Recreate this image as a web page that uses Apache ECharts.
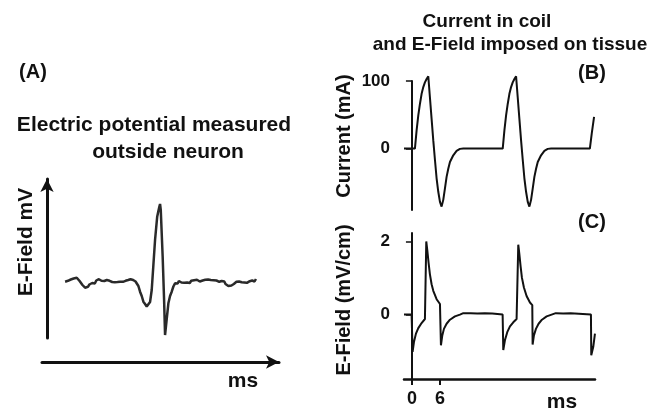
<!DOCTYPE html>
<html>
<head>
<meta charset="utf-8">
<script src="https://cdn.jsdelivr.net/npm/echarts@6/dist/echarts.min.js"></script>
<style>
  html, body { margin: 0; padding: 0; background: #fff; }
  #chart { width: 650px; height: 408px; }
</style>
</head>
<body>
<div id="chart"></div>
<script>
// (A) extracellular spike, arbitrary units (x 0..100, baseline 0)
const spikeTrace = [[7.6,0.13],[8.2,0.02],[8.8,0.22],[9.4,0.12],[10.0,0.35],[10.6,0.25],[11.2,0.45],[11.8,0.36],[12.5,0.53],[13.1,0.38],[13.7,0.2],[14.3,0.05],[14.9,-0.2],[15.5,-0.3],[16.0,-0.47],[16.6,-0.3],[17.2,-0.38],[17.8,-0.15],[18.4,-0.22],[19.0,0.0],[19.5,0.07],[20.1,-0.05],[20.7,0.25],[21.3,0.15],[21.8,0.38],[22.3,0.4],[22.9,0.22],[23.5,0.36],[24.1,0.2],[24.6,0.38],[25.1,0.3],[25.7,0.12],[26.3,0.22],[26.8,0.02],[27.4,0.1],[27.9,-0.03],[28.5,0.08],[29.1,-0.08],[29.6,0.1],[30.2,0.0],[30.7,0.13],[31.3,0.25],[31.9,0.12],[32.4,0.32],[33.0,0.22],[33.5,0.4],[34.1,0.3],[34.6,0.5],[35.1,0.38],[35.6,0.53],[36.2,0.3],[36.7,0.38],[37.2,0.15],[37.7,0.2],[38.4,-0.3],[39.1,-0.87],[39.8,-1.3],[40.5,-1.87],[41.2,-2.1],[41.9,-2.35],[42.6,-2.53],[43.3,-1.9],[44.0,-0.7],[44.7,1.8],[45.4,4.3],[46.3,6.63],[46.8,7.2],[47.2,7.63],[47.5,7.9],[47.8,7.3],[48.6,2.63],[49.2,-1.7],[49.6,-5.2],[50.3,-3.6],[51.0,-2.03],[51.7,-1.3],[52.4,-0.87],[53.1,-0.35],[53.8,-0.03],[54.4,0.12],[54.9,-0.05],[55.4,0.2],[55.9,0.2],[56.5,0.05],[57.1,0.18],[57.7,0.02],[58.3,0.2],[58.9,0.05],[59.4,0.13],[60.0,0.0],[60.6,0.22],[61.2,0.08],[61.8,0.28],[62.4,0.15],[63.0,0.32],[63.6,0.3],[64.2,0.15],[64.8,0.35],[65.4,0.25],[66.0,0.45],[66.5,0.32],[67.1,0.47],[67.7,0.35],[68.3,0.52],[68.8,0.3],[69.4,0.45],[70.0,0.28],[70.6,0.4],[71.2,0.25],[71.8,0.35],[72.4,0.12],[72.9,0.25],[73.4,0.2],[74.0,0.05],[74.5,0.15],[75.0,-0.1],[75.5,-0.03],[76.2,-0.3],[76.9,-0.47],[77.5,-0.25],[78.0,-0.35],[78.5,-0.1],[79.0,-0.03],[79.6,0.12],[80.2,-0.05],[80.7,0.15],[81.3,0.0],[81.8,0.07],[82.4,-0.1],[82.9,0.05],[83.5,-0.12],[84.0,0.02],[84.6,-0.03],[85.2,0.18],[85.7,0.05],[86.2,0.25],[86.7,0.3],[87.2,0.15],[87.8,0.4]];

// (B) coil current, ms / mA
const currentCycle1 = [[-1.7,0],[0.64,0],[1.0,27],[1.36,49],[1.71,66],[2.07,81],[2.43,91],[2.78,98],[3.14,103],[3.5,107],[3.85,76],[4.21,44],[4.57,12],[4.93,-17],[5.28,-44],[5.64,-64],[6.0,-79],[6.35,-86],[6.71,-76],[7.07,-59],[7.42,-42],[7.78,-30],[8.14,-20],[8.85,-10],[9.56,-3.5],[10.28,-0.5],[11.0,0]];
const currentCycle2 = [[19.44,0],[19.8,27],[20.16,49],[20.51,66],[20.87,81],[21.23,91],[21.58,98],[21.94,103],[22.3,107],[22.65,76],[23.01,44],[23.37,12],[23.73,-17],[24.08,-44],[24.44,-64],[24.8,-79],[25.15,-86],[25.51,-76],[25.87,-59],[26.22,-42],[26.58,-30],[26.94,-20],[27.65,-10],[28.36,-3.5],[29.08,-0.5],[29.8,0]];
const currentCycle3 = [[38.1,0],[38.5,22],[39.0,47]];

// (C) induced E-field, ms / mV/cm
const fieldCycle1 = [[-1.7,0],[-0.07,0],[0.14,-1.02],[0.43,-0.75],[0.86,-0.52],[1.36,-0.37],[2.07,-0.23],[2.78,-0.12],[3.0,-0.09],[3.07,2.0],[3.28,1.77],[3.57,1.41],[3.85,1.10],[4.21,0.83],[4.57,0.65],[5.28,0.42],[6.0,0.29],[6.14,0.26],[6.21,-0.84],[6.5,-0.57],[6.85,-0.39],[7.42,-0.25],[8.14,-0.14],[9.21,-0.05],[10.28,0],[11.0,0.04],[11.3,0],[12.6,0.04],[12.9,0],[14.0,0.03],[14.3,0],[15.6,0.04],[15.9,0],[17.2,0.03],[17.5,0],[19.42,0]];
const fieldCycle2 = [[19.56,-0.97],[19.91,-0.70],[20.41,-0.48],[20.99,-0.32],[21.7,-0.21],[22.41,-0.12],[22.7,-0.09],[22.77,1.91],[22.98,1.68],[23.27,1.32],[23.55,1.01],[23.98,0.74],[24.55,0.51],[25.27,0.33],[25.77,0.26],[25.84,-0.82],[26.12,-0.57],[26.55,-0.39],[27.12,-0.25],[27.84,-0.14],[28.84,-0.05],[29.91,0],[30.8,0.04],[31.1,0],[32.4,0.03],[32.7,0],[34.0,0.04],[34.3,0],[38.33,0]];
const fieldCycle3 = [[38.4,-1.11],[38.83,-0.88],[39.19,-0.52]];

const currentTicks = [0, 100];
const fieldTicks = [0, 2];
const timeTicks = [0, 6];

const FONT = '"Liberation Sans", Arial, sans-serif';
const ink = '#111';

function label(text, x, y, size, rotate) {
    return {
        type: 'text', x: x, y: y, rotation: rotate ? Math.PI / 2 : 0,
        style: { text: text, fill: ink, font: 'bold ' + size + 'px ' + FONT, align: 'center', verticalAlign: 'middle' }
    };
}

const chart = echarts.init(document.getElementById('chart'));
chart.setOption({
    animation: false,
    backgroundColor: '#fff',
    grid: [
        { left: 47, right: 365, top: 179, bottom: 70 },
        { left: 42, right: 371, top: 340, bottom: 46 },
        { left: 404, right: 55, top: 81, bottom: 198 },
        { left: 404, right: 55, top: 233, bottom: 27 }
    ],
    xAxis: [
        { gridIndex: 0, type: 'value', min: 0, max: 100, show: false },
        { gridIndex: 1, type: 'value', min: 0, max: 1,
          axisLine: { show: true, symbol: ['none', 'arrow'], symbolSize: [10, 13], lineStyle: { color: ink, width: 3 } },
          axisTick: { show: false }, axisLabel: { show: false }, splitLine: { show: false } },
        { gridIndex: 2, type: 'value', min: -1.7, max: 39.2, show: false },
        { gridIndex: 3, type: 'value', min: -1.7, max: 39.2,
          axisLine: { show: true, onZero: false, lineStyle: { color: ink, width: 2.5 } },
          axisTick: { show: true, customValues: timeTicks, length: 6, lineStyle: { color: ink, width: 2 } },
          axisLabel: { customValues: timeTicks, margin: 11, color: ink, fontWeight: 'bold', fontSize: 18, fontFamily: FONT },
          splitLine: { show: false } }
    ],
    yAxis: [
        { gridIndex: 0, type: 'value', min: -5.5, max: 10.4,
          axisLine: { show: true, symbol: ['none', 'arrow'], symbolSize: [10, 13], lineStyle: { color: ink, width: 3 } },
          axisTick: { show: false }, axisLabel: { show: false }, splitLine: { show: false } },
        { gridIndex: 1, type: 'value', show: false },
        { gridIndex: 2, type: 'value', min: -91, max: 100,
          axisLine: { show: true, lineStyle: { color: ink, width: 2 } },
          axisTick: { show: true, customValues: currentTicks, length: 6, lineStyle: { color: ink, width: 1.5 } },
          axisLabel: { customValues: currentTicks, margin: 14, color: ink, fontWeight: 'bold', fontSize: 17, fontFamily: FONT },
          splitLine: { show: false } },
        { gridIndex: 3, type: 'value', min: -1.76, max: 2.23,
          axisLine: { show: true, lineStyle: { color: ink, width: 2 } },
          axisTick: { show: true, customValues: fieldTicks, length: 6, lineStyle: { color: ink, width: 1.5 } },
          axisLabel: { customValues: fieldTicks, margin: 14, color: ink, fontWeight: 'bold', fontSize: 17, fontFamily: FONT },
          splitLine: { show: false } }
    ],
    series: [
        { type: 'line', xAxisIndex: 0, yAxisIndex: 0, data: spikeTrace, symbol: 'none', lineStyle: { color: '#2a2a2a', width: 2.5 } },
        { type: 'line', xAxisIndex: 2, yAxisIndex: 2, clip: false, symbol: 'none', lineStyle: { color: ink, width: 2 },
          data: currentCycle1.concat(currentCycle2, currentCycle3) },
        { type: 'line', xAxisIndex: 3, yAxisIndex: 3, clip: false, symbol: 'none', lineStyle: { color: ink, width: 2 },
          data: fieldCycle1.concat(fieldCycle2, fieldCycle3) }
    ],
    graphic: [
        label('(A)', 33, 72, 20),
        label('Electric potential measured', 154, 125, 21),
        label('outside neuron', 168, 152, 21),
        label('E-Field mV', 26, 242, 21, true),
        label('ms', 243, 381, 21),
        label('Current in coil', 487, 22, 19),
        label('and E-Field imposed on tissue', 510, 45, 19),
        label('(B)', 592, 73, 20),
        label('(C)', 592, 222, 20),
        label('Current (mA)', 344, 136, 20, true),
        label('E-Field (mV/cm)', 344, 300, 20, true),
        label('ms', 562, 402, 21)
    ]
});
</script>
</body>
</html>
